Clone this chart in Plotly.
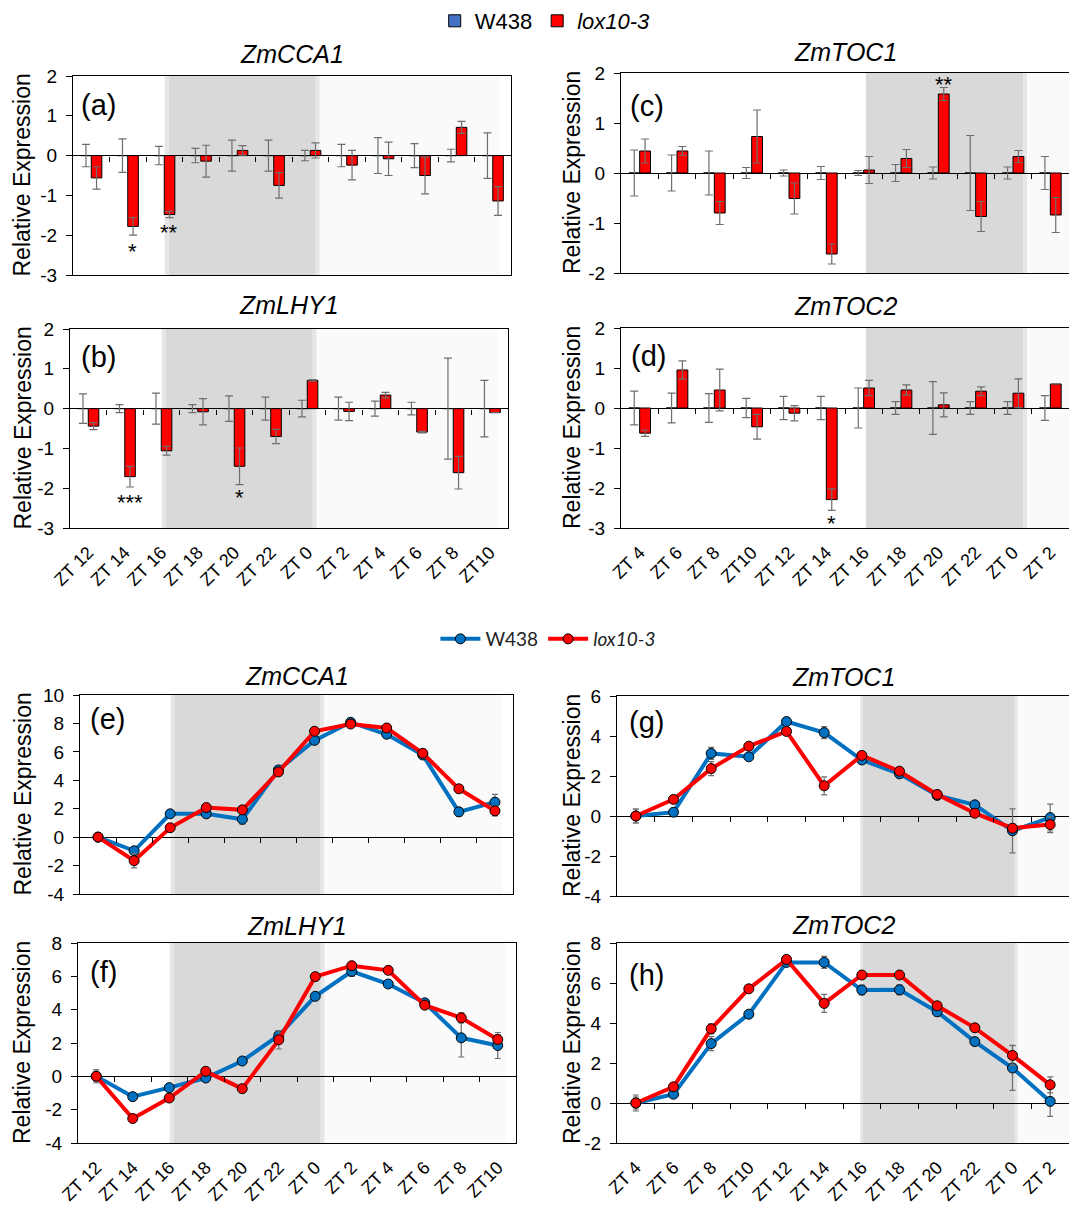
import plotly.graph_objects as go

W, H = 1069, 1207
FONT = "Liberation Sans, Arial, sans-serif"

# ---- categories -----------------------------------------------------------
ZT_FROM_12 = ["ZT 12", "ZT 14", "ZT 16", "ZT 18", "ZT 20", "ZT 22",
              "ZT 0", "ZT 2", "ZT 4", "ZT 6", "ZT 8", "ZT10"]
ZT_FROM_4 = ["ZT 4", "ZT 6", "ZT 8", "ZT10", "ZT 12", "ZT 14",
             "ZT 16", "ZT 18", "ZT 20", "ZT 22", "ZT 0", "ZT 2"]

# ---- bar panels: lox10-3 relative to W438 (W438 = 0 baseline) --------------
W438_BASE = [0, 0, 0, 0, 0, 0, 0, 0, 0, 0, 0, 0]

cca1_w438_err = [0.28, 0.42, 0.23, 0.18, 0.39, 0.39, 0.13, 0.28, 0.45, 0.30, 0.16, 0.57]
cca1_lox = [-0.56, -1.78, -1.48, -0.14, 0.13, -0.75, 0.13, -0.24, -0.08, -0.50, 0.71, -1.14]
cca1_lox_err = [0.28, 0.22, 0.08, 0.40, 0.12, 0.32, 0.19, 0.37, 0.42, 0.46, 0.15, 0.36]

lhy1_w438_err = [0.37, 0.10, 0.39, 0.10, 0.32, 0.29, 0.21, 0.29, 0.19, 0.16, 1.27, 0.71]
lhy1_lox = [-0.44, -1.71, -1.06, -0.08, -1.45, -0.70, 0.71, -0.07, 0.34, -0.59, -1.61, -0.10]
lhy1_lox_err = [0.09, 0.26, 0.11, 0.33, 0.46, 0.18, 0.02, 0.23, 0.07, 0.02, 0.41, 0.0]

toc1_w438_err = [0.46, 0.36, 0.44, 0.11, 0.06, 0.13, 0.05, 0.17, 0.12, 0.75, 0.12, 0.33]
toc1_lox = [0.44, 0.44, -0.80, 0.73, -0.51, -1.62, 0.06, 0.29, 1.58, -0.87, 0.33, -0.84]
toc1_lox_err = [0.24, 0.09, 0.23, 0.53, 0.31, 0.20, 0.27, 0.18, 0.13, 0.30, 0.12, 0.35]

toc2_w438_err = [0.42, 0.37, 0.36, 0.24, 0.29, 0.29, 0.50, 0.16, 0.66, 0.16, 0.16, 0.31]
toc2_lox = [-0.63, 0.95, 0.45, -0.47, -0.13, -2.29, 0.50, 0.45, 0.08, 0.42, 0.37, 0.60]
toc2_lox_err = [0.08, 0.23, 0.52, 0.31, 0.19, 0.27, 0.19, 0.13, 0.30, 0.11, 0.36, 0.0]

# ---- line panels: absolute relative expression -------------------------------
cca1_w = [0.0, -0.96, 1.64, 1.64, 1.26, 4.73, 6.81, 8.08, 7.24, 5.78, 1.78, 2.46]
cca1_w_err = [0.15, 0.2, 0.2, 0.2, 0.35, 0.2, 0.15, 0.15, 0.3, 0.2, 0.3, 0.55]
cca1_l = [0.0, -1.66, 0.66, 2.08, 1.92, 4.59, 7.45, 7.96, 7.68, 5.90, 3.40, 1.85]
cca1_l_err = [0.15, 0.5, 0.15, 0.2, 0.15, 0.2, 0.15, 0.15, 0.2, 0.15, 0.15, 0.35]

lhy1_w = [0.0, -1.22, -0.68, -0.10, 0.92, 2.45, 4.80, 6.30, 5.54, 4.41, 2.31, 1.85]
lhy1_w_err = [0.4, 0.15, 0.15, 0.15, 0.1, 0.3, 0.15, 0.3, 0.15, 0.15, 1.15, 0.78]
lhy1_l = [0.0, -2.53, -1.30, 0.30, -0.74, 2.19, 5.98, 6.64, 6.36, 4.27, 3.51, 2.21]
lhy1_l_err = [0.3, 0.15, 0.15, 0.15, 0.15, 0.55, 0.15, 0.15, 0.15, 0.15, 0.3, 0.3]

toc1_w = [0.0, 0.19, 3.13, 2.96, 4.72, 4.17, 2.80, 2.11, 1.03, 0.56, -0.74, -0.08]
toc1_w_err = [0.35, 0.15, 0.3, 0.15, 0.1, 0.3, 0.15, 0.2, 0.15, 0.15, 1.1, 0.67]
toc1_l = [0.0, 0.83, 2.37, 3.49, 4.23, 1.51, 3.03, 2.24, 1.08, 0.14, -0.61, -0.43]
toc1_l_err = [0.35, 0.15, 0.35, 0.15, 0.1, 0.45, 0.15, 0.15, 0.15, 0.15, 0.2, 0.4]

toc2_w = [0.0, 0.44, 2.97, 4.44, 7.03, 7.03, 5.65, 5.66, 4.56, 3.07, 1.75, 0.08]
toc2_w_err = [0.4, 0.15, 0.35, 0.15, 0.15, 0.3, 0.25, 0.25, 0.2, 0.15, 1.12, 0.75]
toc2_l = [0.0, 0.81, 3.71, 5.71, 7.18, 4.98, 6.40, 6.40, 4.86, 3.76, 2.38, 0.91]
toc2_l_err = [0.3, 0.15, 0.25, 0.15, 0.15, 0.45, 0.15, 0.15, 0.2, 0.15, 0.5, 0.4]

BLUE_BAR, RED = "#4472C4", "#FF0000"
BLUE_LINE = "#0070C0"
ERR_COL = "#6e6e6e"
DARK, STRIP, PALE = "#d9d9d9", "#e6e6e6", "#fafafa"


def fx(x):
    return x / W


def fy(y):
    return 1 - y / H


# shading bands (category-index units) for the dark period
SHADE_LEFT = [(2.01, 2.12, STRIP), (2.12, 6.15, DARK), (6.15, 6.26, STRIP), (6.26, 11.2, PALE)]
SHADE_C = [(6.06, 10.28, DARK), (10.28, 10.38, STRIP), (10.38, 11.5, PALE)]
SHADE_G = [(5.96, 6.03, STRIP), (6.03, 10.06, DARK), (10.06, 10.14, STRIP), (10.14, 11.5, PALE)]

panels = [
    dict(kind="bar", cats=ZT_FROM_12, base_err=cca1_w438_err, val=cca1_lox, err=cca1_lox_err,
         box=(73, 76, 511, 275), yr=(-3, 2), dt=1, labels=False, right=False,
         title="ZmCCA1", ty=54, tag="(a)", tagpos=(79, 105), shade=SHADE_LEFT,
         stars=[(1, "*", -2.42), (2, "**", -1.92)]),
    dict(kind="bar", cats=ZT_FROM_12, base_err=lhy1_w438_err, val=lhy1_lox, err=lhy1_lox_err,
         box=(70, 329, 508, 528), yr=(-3, 2), dt=1, labels=True, right=False,
         title="ZmLHY1", ty=305, tag="(b)", tagpos=(79, 357), shade=SHADE_LEFT,
         stars=[(1, "***", -2.36), (4, "*", -2.24)]),
    dict(kind="bar", cats=ZT_FROM_4, base_err=toc1_w438_err, val=toc1_lox, err=toc1_lox_err,
         box=(621, 73, 1069, 273), yr=(-2, 2), dt=1, labels=False, right=True,
         title="ZmTOC1", ty=52, tag="(c)", tagpos=(628, 106), shade=SHADE_C,
         stars=[(5, "**", -2.01), (8, "**", 1.78)]),
    dict(kind="bar", cats=ZT_FROM_4, base_err=toc2_w438_err, val=toc2_lox, err=toc2_lox_err,
         box=(621, 328, 1069, 528), yr=(-3, 2), dt=1, labels=True, right=True,
         title="ZmTOC2", ty=306, tag="(d)", tagpos=(629, 356), shade=SHADE_C,
         stars=[(5, "*", -2.88)]),
    dict(kind="line", cats=ZT_FROM_12, w=cca1_w, we=cca1_w_err, l=cca1_l, le=cca1_l_err,
         box=(80, 695, 513, 894), yr=(-4, 10), dt=2, labels=False, right=False,
         title="ZmCCA1", ty=676, tag="(e)", tagpos=(88, 719), shade=SHADE_LEFT),
    dict(kind="line", cats=ZT_FROM_12, w=lhy1_w, we=lhy1_w_err, l=lhy1_l, le=lhy1_l_err,
         box=(78, 943, 516, 1143), yr=(-4, 8), dt=2, labels=True, right=False,
         title="ZmLHY1", ty=926, tag="(f)", tagpos=(88, 972), shade=SHADE_LEFT),
    dict(kind="line", cats=ZT_FROM_4, w=toc1_w, we=toc1_w_err, l=toc1_l, le=toc1_l_err,
         box=(617, 696, 1069, 896), yr=(-4, 6), dt=2, labels=False, right=True,
         title="ZmTOC1", ty=677, tag="(g)", tagpos=(627, 722), shade=SHADE_G),
    dict(kind="line", cats=ZT_FROM_4, w=toc2_w, we=toc2_w_err, l=toc2_l, le=toc2_l_err,
         box=(617, 943, 1069, 1143), yr=(-2, 8), dt=2, labels=True, right=True,
         title="ZmTOC2", ty=925, tag="(h)", tagpos=(627, 975), shade=SHADE_G),
]

fig = go.Figure()
layout = {}
shapes, annotations = [], []
n = len(panels)

for i, p in enumerate(panels):
    k = i + 1
    sfx = "" if k == 1 else str(k)
    xa, ya = "x" + sfx, "y" + sfx
    tick_ax = "x" + str(n + k)
    l, t, r, b = p["box"]
    cats = p["cats"]
    first_bar = (i == 0)
    first_line = (i == 4)

    if p["kind"] == "bar":
        fig.add_trace(go.Bar(
            x=cats, y=W438_BASE, name="W438", legend="legend",
            marker=dict(color=BLUE_BAR, line=dict(color="black", width=1)),
            error_y=dict(type="data", array=p["base_err"], color=ERR_COL, thickness=1.2, width=4),
            xaxis=xa, yaxis=ya, showlegend=first_bar, legendgroup="wb"))
        fig.add_trace(go.Bar(
            x=cats, y=p["val"], name="<i>lox10-3</i>", legend="legend",
            marker=dict(color=RED, line=dict(color="black", width=1)),
            error_y=dict(type="data", array=p["err"], color=ERR_COL, thickness=1.2, width=4),
            xaxis=xa, yaxis=ya, showlegend=first_bar, legendgroup="lb"))
        for idx, txt, yv in p["stars"]:
            annotations.append(dict(x=idx + 0.14, y=yv, xref=xa, yref=ya, text=txt,
                                    showarrow=False, font=dict(size=22, color="black", family=FONT),
                                    xanchor="center", yanchor="middle"))
    else:
        fig.add_trace(go.Scatter(
            x=cats, y=p["w"], name="W438", legend="legend2", mode="lines+markers",
            line=dict(color=BLUE_LINE, width=4),
            marker=dict(size=10, color=BLUE_LINE, line=dict(color="black", width=1)),
            error_y=dict(type="data", array=p["we"], color=ERR_COL, thickness=1.2, width=3),
            xaxis=xa, yaxis=ya, showlegend=first_line, legendgroup="wl"))
        fig.add_trace(go.Scatter(
            x=cats, y=p["l"], name="<i>lox10-3</i>", legend="legend2", mode="lines+markers",
            line=dict(color=RED, width=4),
            marker=dict(size=10, color=RED, line=dict(color="black", width=1)),
            error_y=dict(type="data", array=p["le"], color=ERR_COL, thickness=1.2, width=3),
            xaxis=xa, yaxis=ya, showlegend=first_line, legendgroup="ll"))

    # empty trace carrying the zero-line tick axis
    fig.add_trace(go.Scatter(x=[None], y=[None], xaxis=tick_ax, yaxis=ya,
                             showlegend=False, hoverinfo="skip"))

    y0, y1 = p["yr"]
    zero_frac = fy(b) + (fy(t) - fy(b)) * (0 - y0) / (y1 - y0)
    yticks = list(range(y0, y1 + 1, p["dt"]))

    layout["xaxis" + sfx] = dict(
        domain=[fx(l), fx(r)], anchor=ya, type="category", categoryarray=cats,
        categoryorder="array", range=[-0.5, 11.5], showline=True, mirror=True,
        linecolor="black", linewidth=1, ticks="", showgrid=False, zeroline=False,
        showticklabels=p["labels"], tickangle=-45, automargin=False,
        tickfont=dict(size=18, family=FONT, color="black"), ticklabelstandoff=6)
    layout["yaxis" + sfx] = dict(
        domain=[fy(b), fy(t)], anchor=xa, range=[y0, y1], automargin=False,
        tickmode="array", tickvals=yticks, ticktext=[str(v) for v in yticks],
        showline=True, mirror=not p["right"], linecolor="black", linewidth=1,
        ticks="outside", ticklen=6, tickcolor="black", showgrid=False,
        zeroline=True, zerolinecolor="black", zerolinewidth=1,
        tickfont=dict(size=19, family=FONT, color="black"), ticklabelstandoff=5)
    layout["xaxis" + str(n + k)] = dict(
        overlaying=xa, anchor="free", position=zero_frac, range=[-0.5, 11.5],
        tickmode="array", tickvals=[j + 0.5 for j in range(11)], ticks="outside",
        ticklen=5, tickcolor="black", showticklabels=False, showline=False,
        showgrid=False, zeroline=False, automargin=False)

    for s0, s1, col in p["shade"]:
        shapes.append(dict(type="rect", xref=xa, yref=ya + " domain", x0=s0, x1=s1,
                           y0=0, y1=1, fillcolor=col, line=dict(width=0), layer="below"))

    annotations.append(dict(x=fx((l + r) / 2), y=fy(p["ty"]), xref="paper", yref="paper",
                            text="<i>" + p["title"] + "</i>", showarrow=False,
                            font=dict(size=25, family=FONT, color="black"),
                            xanchor="center", yanchor="middle"))
    annotations.append(dict(x=fx(p["tagpos"][0]), y=fy(p["tagpos"][1]), xref="paper",
                            yref="paper", text=p["tag"], showarrow=False,
                            font=dict(size=29, family=FONT, color="black"),
                            xanchor="left", yanchor="middle"))
    annotations.append(dict(x=fx(572 if p["right"] else 22), y=fy((t + b) / 2),
                            xref="paper", yref="paper", text="Relative Expression",
                            textangle=-90, showarrow=False,
                            font=dict(size=23, family=FONT, color="black"),
                            xanchor="center", yanchor="middle"))

layout.update(
    width=W, height=H, margin=dict(l=0, r=0, t=0, b=0, autoexpand=False),
    paper_bgcolor="white", plot_bgcolor="white",
    barmode="group", bargap=0.42, bargroupgap=0,
    font=dict(family=FONT, color="black"),
    shapes=shapes, annotations=annotations,
    legend=dict(orientation="h", x=0.51, y=1.0, xanchor="center", yanchor="top",
                font=dict(size=22, family=FONT, color="black"), bgcolor="rgba(0,0,0,0)",
                itemwidth=30, tracegroupgap=0),
    legend2=dict(orientation="h", x=0.513, y=fy(639), xanchor="center", yanchor="middle",
                 font=dict(size=19, family="Lato, Open Sans, sans-serif", color="#222"),
                 bgcolor="rgba(0,0,0,0)", itemwidth=40, tracegroupgap=0),
)
fig.update_layout(layout)
fig.write_html("out.html")
